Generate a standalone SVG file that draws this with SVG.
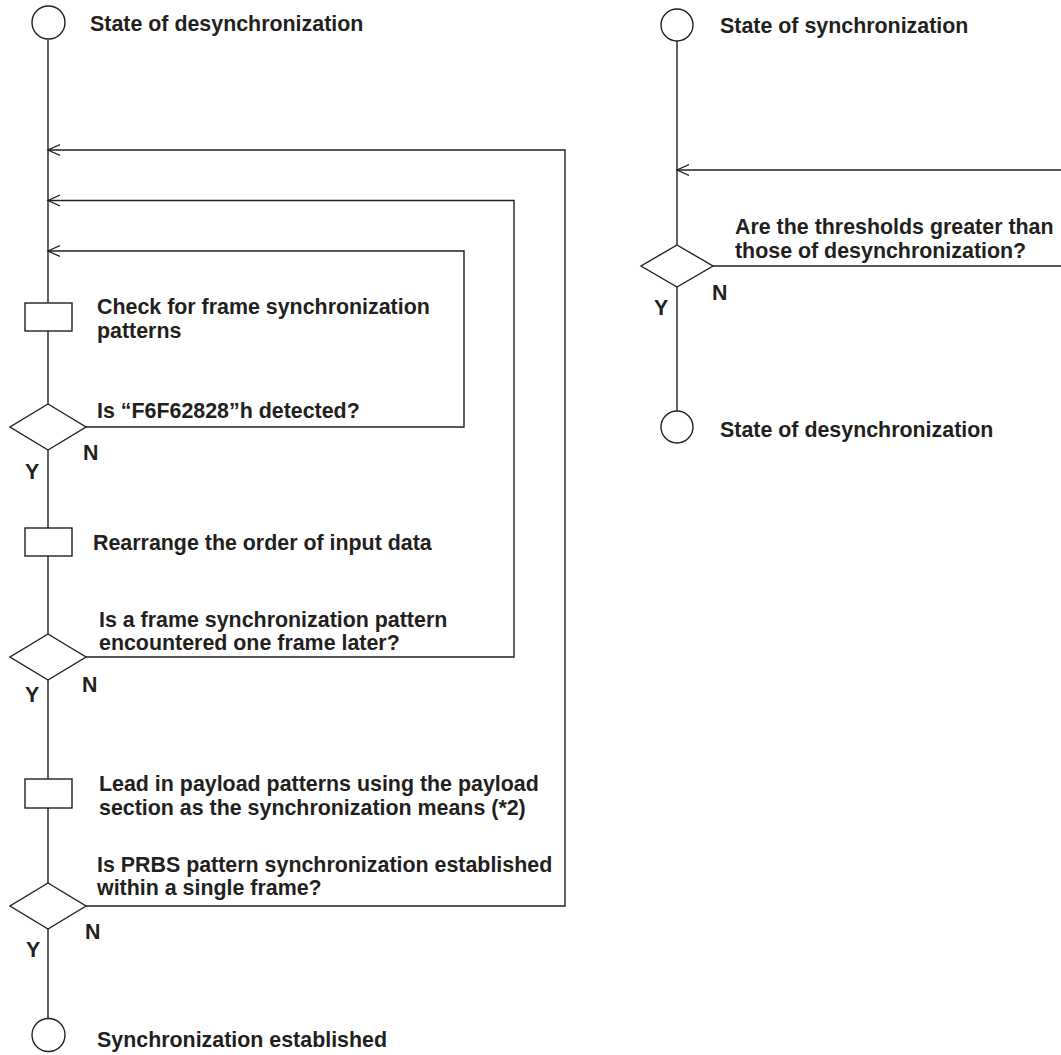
<svg xmlns="http://www.w3.org/2000/svg" width="1061" height="1055" viewBox="0 0 1061 1055">
<defs>
<marker id="open" markerUnits="userSpaceOnUse" markerWidth="14" markerHeight="14" refX="12" refY="6" orient="auto" viewBox="0 0 14 12">
<path d="M0,0.5 L12,6 L0,11.5" fill="none" stroke="#231f20" stroke-width="1.3"/>
</marker>
</defs>
<style>
.ln{fill:none;stroke:#231f20;stroke-width:1.4}
.sh{fill:#fff;stroke:#231f20;stroke-width:1.4}
text{font-family:"Liberation Sans",Arial,sans-serif;font-weight:bold;font-size:21.4px;fill:#231f20}
</style>
<rect width="1061" height="1055" fill="#fff"/>
<g id="connectors">
<line class="ln" x1="48" y1="40" x2="48" y2="1018"/>
<polyline class="ln" points="86,906 565,906 565,150 48,150" marker-end="url(#open)"/>
<polyline class="ln" points="86,657 514,657 514,200.5 48,200.5" marker-end="url(#open)"/>
<polyline class="ln" points="86,427 464,427 464,251 48,251" marker-end="url(#open)"/>
<line class="ln" x1="677" y1="41" x2="677" y2="411"/>
<line class="ln" x1="1061" y1="170" x2="677" y2="170" marker-end="url(#open)"/>
<line class="ln" x1="713" y1="266" x2="1061" y2="266"/>
</g>
<g id="start1"><circle class="sh" cx="48.5" cy="22.5" r="16.5"/><text x="90" y="31">State of desynchronization</text></g>
<g id="check"><rect class="sh" x="25" y="303" width="47" height="28"/><text x="97" y="314">Check for frame synchronization</text><text x="97" y="338">patterns</text></g>
<g id="dec1"><polygon class="sh" points="48,404 86,427 48,450 10,427"/><text x="97" y="418">Is “F6F62828”h detected?</text><text x="83" y="460">N</text><text x="25" y="479">Y</text></g>
<g id="rearrange"><rect class="sh" x="25" y="528" width="47" height="28"/><text x="93" y="550">Rearrange the order of input data</text></g>
<g id="dec2"><polygon class="sh" points="48,634 86,657 48,680 10,657"/><text x="99" y="627">Is a frame synchronization pattern</text><text x="99" y="650">encountered one frame later?</text><text x="82" y="692">N</text><text x="25" y="702">Y</text></g>
<g id="lead"><rect class="sh" x="25" y="779" width="47" height="29"/><text x="99" y="791">Lead in payload patterns using the payload</text><text x="99" y="815">section as the synchronization means (*2)</text></g>
<g id="dec3"><polygon class="sh" points="48,883 86,906 48,929 10,906"/><text x="97" y="872">Is PRBS pattern synchronization established</text><text x="97" y="895">within a single frame?</text><text x="85" y="939">N</text><text x="26" y="957">Y</text></g>
<g id="end1"><circle class="sh" cx="48.5" cy="1035" r="16.5"/><text x="97" y="1047">Synchronization established</text></g>
<g id="start2"><circle class="sh" cx="677" cy="25" r="16"/><text x="720" y="33">State of synchronization</text></g>
<g id="dec4"><polygon class="sh" points="677,245 713,266 677,287 641,266"/><text x="735" y="234">Are the thresholds greater than</text><text x="735" y="258">those of desynchronization?</text><text x="712" y="300">N</text><text x="654" y="315">Y</text></g>
<g id="end2"><circle class="sh" cx="677" cy="427" r="16"/><text x="720" y="437">State of desynchronization</text></g>
</svg>
